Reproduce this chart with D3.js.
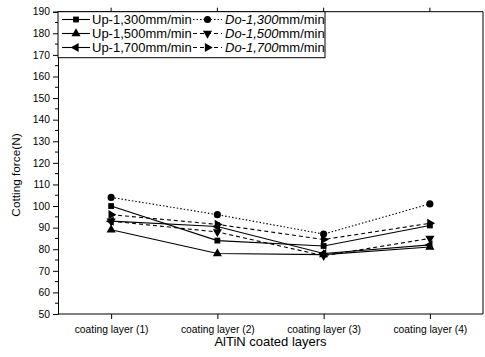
<!DOCTYPE html>
<html lang="en">
<head>
<meta charset="UTF-8">
<title>Cotting force vs AlTiN coated layers</title>
<script src="https://d3js.org/d3.v7.min.js"></script>
<style>
  body { margin: 0; background: #fff; }
  text { font-family: "Liberation Sans", Arial, sans-serif; fill: #000; }
</style>
</head>
<body>
<svg id="chart" width="485" height="357"></svg>
<script>
// categories on the x axis
const categories = ["coating layer (1)", "coating layer (2)", "coating layer (3)", "coating layer (4)"];
// y ticks
const yTicks = [50, 60, 70, 80, 90, 100, 110, 120, 130, 140, 150, 160, 170, 180, 190];

// series values (N)
const up1300 = [100, 84, 81.5, 91];
const up1500 = [89, 78, 77.5, 81];
const up1700 = [93, 90.5, 78, 82];
const do1300 = [104, 96, 87, 101];
const do1500 = [93, 88, 77, 85];
const do1700 = [96, 91.5, 84.5, 92];

const series = [
  { name: "Up-1,300mm/min", values: up1300, marker: "square", dash: null },
  { name: "Up-1,500mm/min", values: up1500, marker: "triUp", dash: null },
  { name: "Up-1,700mm/min", values: up1700, marker: "triLeft", dash: null },
  { name: "Do-1,300", unit: "mm/min", values: do1300, marker: "circle", dash: "1.5,2" },
  { name: "Do-1,500", unit: "mm/min", values: do1500, marker: "triDown", dash: "4,3" },
  { name: "Do-1,700", unit: "mm/min", values: do1700, marker: "triRight", dash: "4,3" }
];

const svg = d3.select("#chart");
const mLeft = 58, mRight = 483, mTop = 11.7, mBottom = 314;

const x = d3.scaleLinear().domain([0.5, 4.5]).range([mLeft, mRight]);
const y = d3.scaleLinear().domain([50, 190]).range([mBottom, mTop]);

// marker shapes
const symbolFor = {
  square: d3.symbol().type(d3.symbolSquare).size(34),
  circle: d3.symbol().type(d3.symbolCircle).size(40),
  triUp: d3.symbol().type(d3.symbolTriangle).size(36),
  triDown: d3.symbol().type(d3.symbolTriangle).size(36),
  triLeft: d3.symbol().type(d3.symbolTriangle).size(36),
  triRight: d3.symbol().type(d3.symbolTriangle).size(36)
};
const rotateFor = { square: 0, circle: 0, triUp: 0, triDown: 180, triLeft: -90, triRight: 90 };

function drawMarker(g, type, cx, cy) {
  g.append("path")
    .attr("d", symbolFor[type]())
    .attr("transform", `translate(${cx},${cy}) rotate(${rotateFor[type]})`)
    .attr("fill", "#000");
}

// left axis
const yAxis = svg.append("g")
  .attr("transform", `translate(${mLeft},0)`)
  .call(d3.axisLeft(y).tickValues(yTicks).tickSize(5).tickPadding(3));
yAxis.selectAll("text").style("font-size", "10.3px");
// minor ticks
svg.append("g").selectAll("line")
  .data(d3.range(55, 190, 10))
  .join("line")
  .attr("x1", mLeft - 3).attr("x2", mLeft)
  .attr("y1", d => y(d)).attr("y2", d => y(d))
  .attr("stroke", "#000");

// bottom axis
const xAxis = svg.append("g")
  .attr("transform", `translate(0,${mBottom})`)
  .call(d3.axisBottom(x).tickValues([1, 2, 3, 4]).tickSize(5).tickPadding(7)
    .tickFormat((d, i) => categories[i]));
xAxis.selectAll("text").style("font-size", "10.3px");
xAxis.select(".domain").attr("d", `M${mLeft},0H${mRight}`);

// frame: top and right
svg.append("line").attr("x1", mLeft).attr("x2", mRight).attr("y1", mTop).attr("y2", mTop).attr("stroke", "#000");
svg.append("line").attr("x1", mRight).attr("x2", mRight).attr("y1", mTop).attr("y2", mBottom).attr("stroke", "#000");
// top ticks
svg.append("g").selectAll("line")
  .data([1, 2, 3, 4])
  .join("line")
  .attr("x1", d => x(d)).attr("x2", d => x(d))
  .attr("y1", mTop).attr("y2", mTop - 4)
  .attr("stroke", "#000");

// lines
const line = d3.line().x((d, i) => x(i + 1)).y(d => y(d));
series.forEach(s => {
  svg.append("path")
    .attr("d", line(s.values))
    .attr("fill", "none")
    .attr("stroke", "#000")
    .attr("stroke-width", 1.1)
    .attr("stroke-dasharray", s.dash);
  const g = svg.append("g");
  s.values.forEach((v, i) => drawMarker(g, s.marker, x(i + 1), y(v)));
});

// legend
const legend = svg.append("g");
legend.append("rect")
  .attr("x", mLeft).attr("y", mTop)
  .attr("width", 267).attr("height", 46)
  .attr("fill", "#fff").attr("stroke", "#000");
const rowY = [19.5, 33.5, 47.5];
series.forEach((s, k) => {
  const col = k < 3 ? 0 : 1;
  const ry = rowY[k % 3];
  const x0 = col === 0 ? 62 : 193, x1 = col === 0 ? 90 : 222;
  legend.append("line")
    .attr("x1", x0).attr("x2", x1).attr("y1", ry).attr("y2", ry)
    .attr("stroke", "#000").attr("stroke-width", 1.1)
    .attr("stroke-dasharray", s.dash);
  drawMarker(legend, s.marker, (x0 + x1) / 2, ry);
  const t = legend.append("text")
    .attr("x", col === 0 ? 92 : 225)
    .attr("y", ry + 4.6)
    .style("font-size", "13px");
  if (col === 0) {
    t.text(s.name);
  } else {
    t.append("tspan").style("font-style", "italic").text(s.name);
    t.append("tspan").text(s.unit);
  }
});

// axis titles
svg.append("text")
  .attr("x", (mLeft + mRight) / 2).attr("y", 346)
  .attr("text-anchor", "middle")
  .style("font-size", "13px")
  .text("AlTiN coated layers");

svg.append("text")
  .attr("transform", "translate(20,175) rotate(-90)")
  .attr("text-anchor", "middle")
  .style("font-size", "11.8px")
  .text("Cotting force(N)");
</script>
</body>
</html>
